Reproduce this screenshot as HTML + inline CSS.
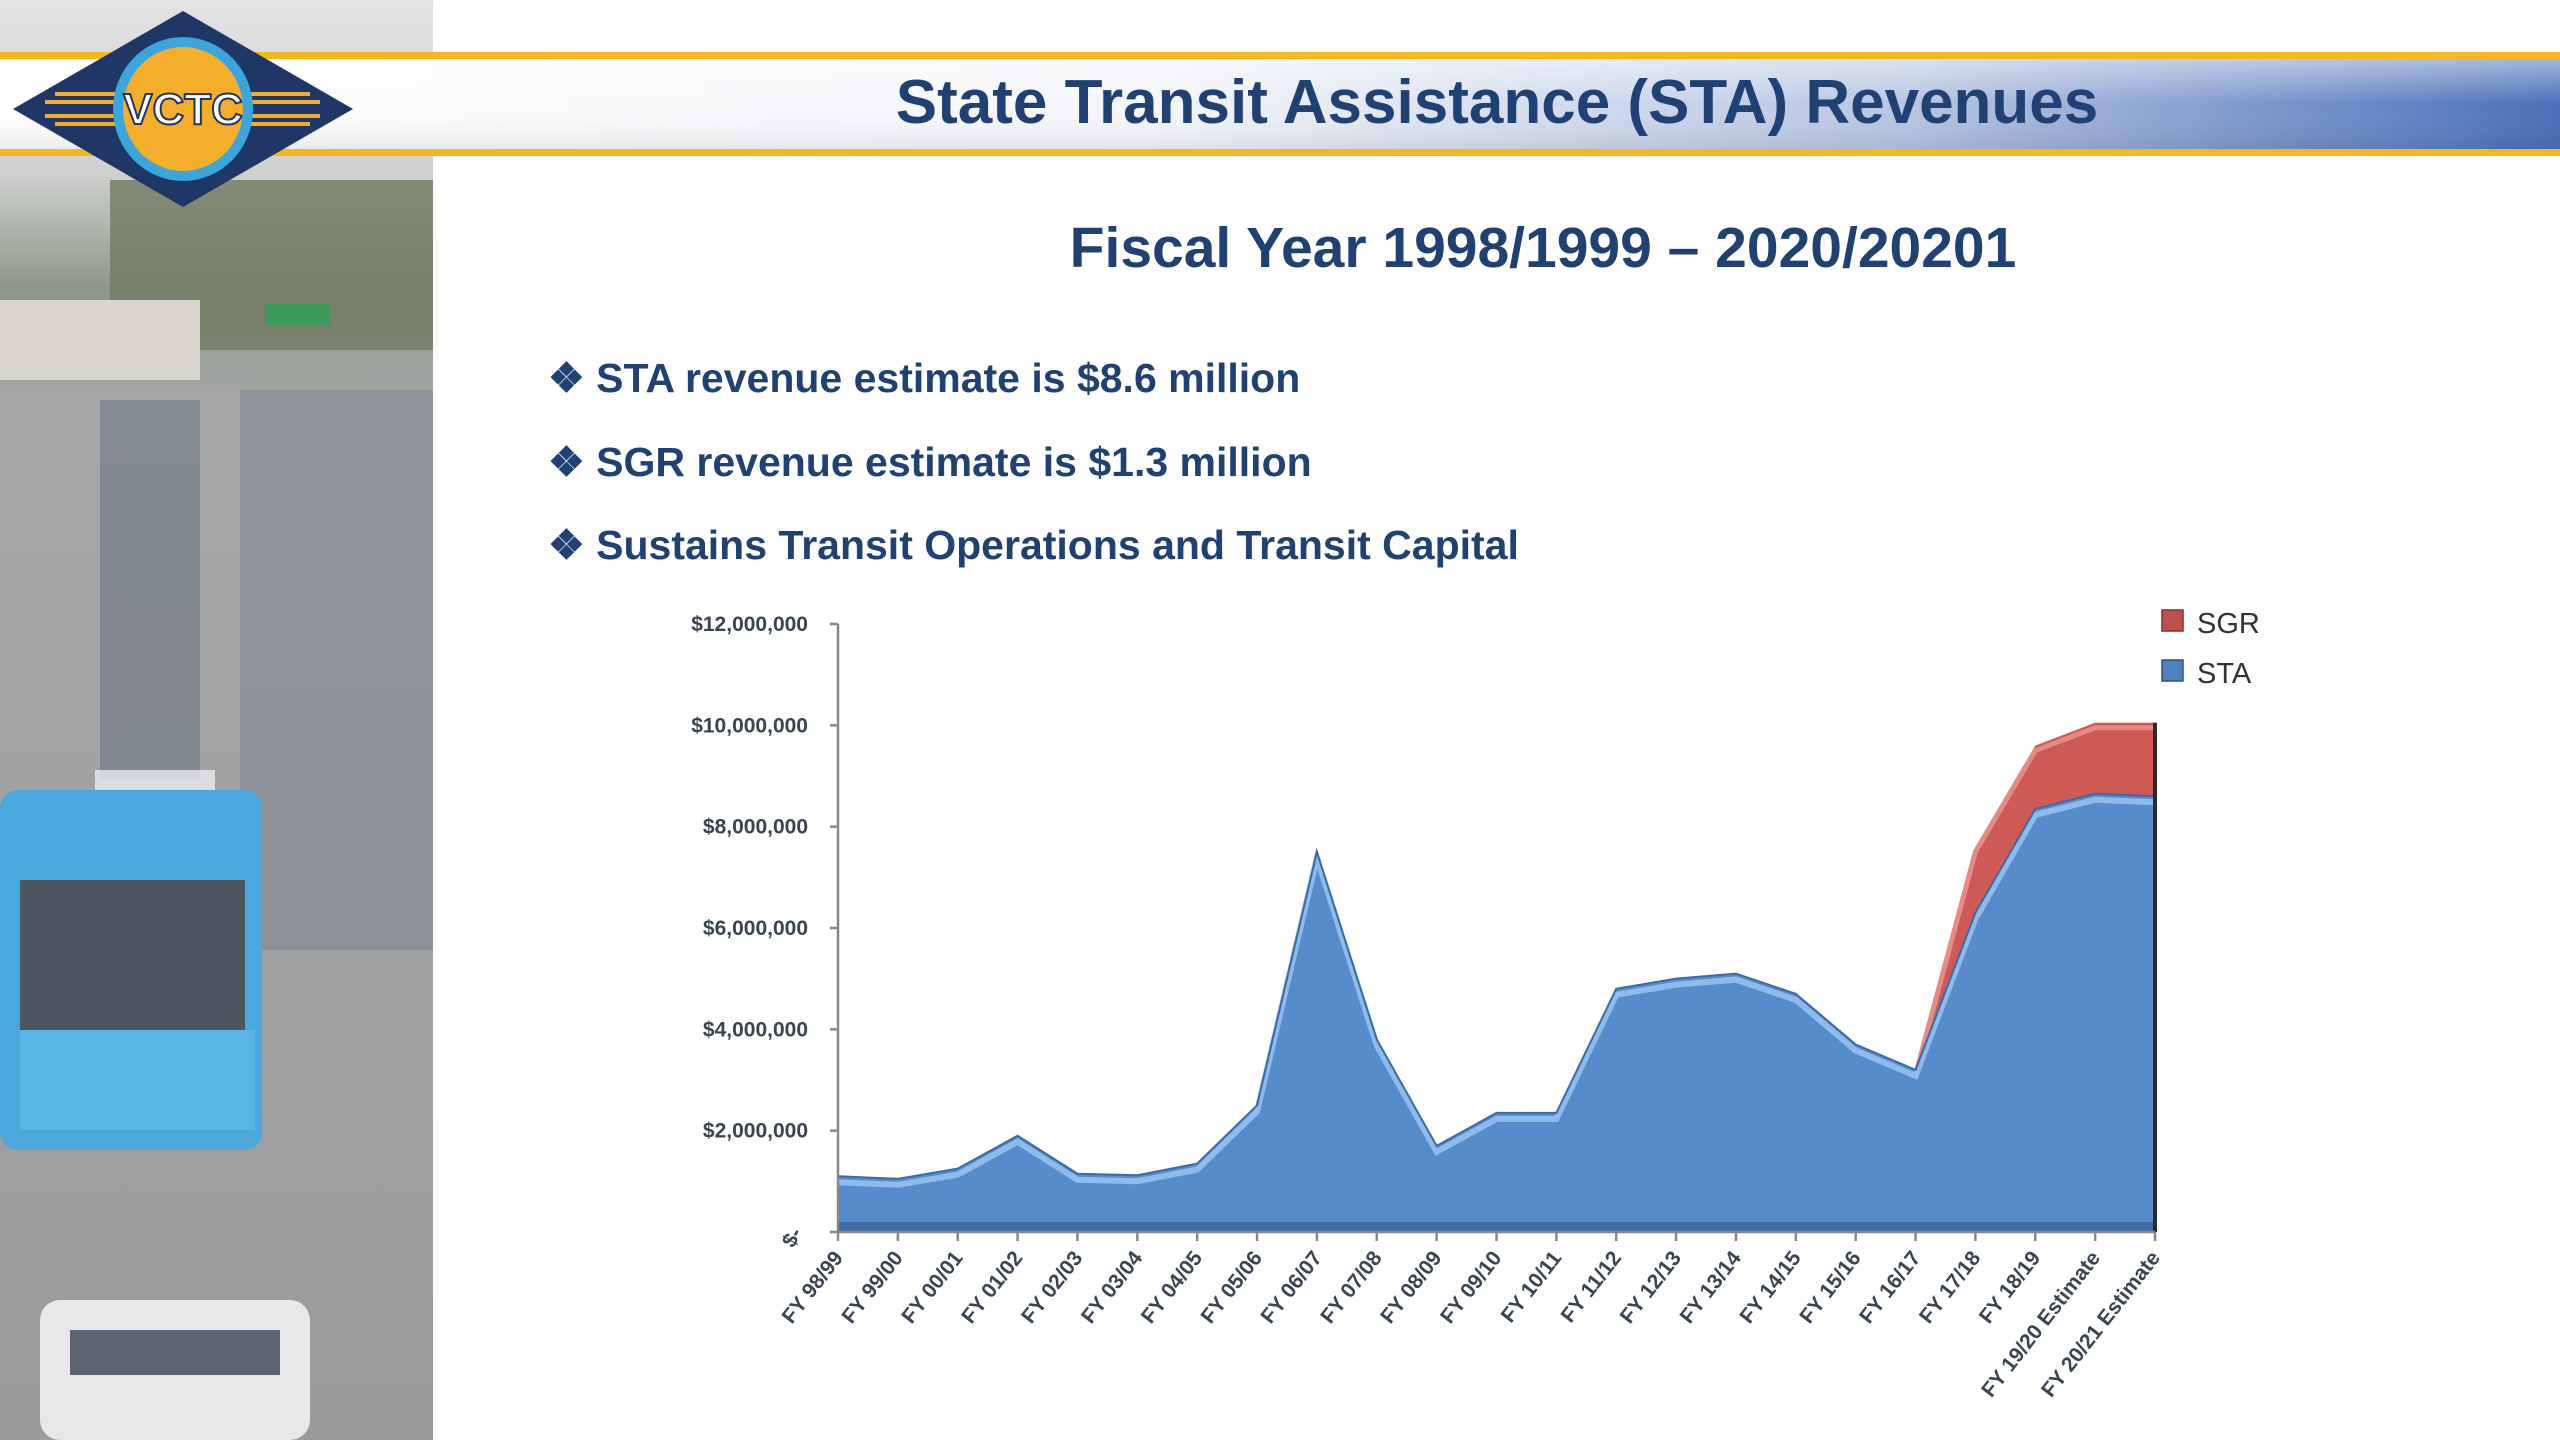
<!DOCTYPE html>
<html><head><meta charset="utf-8"><style>
html,body{margin:0;padding:0;width:2560px;height:1440px;overflow:hidden;background:#fff;font-family:"Liberation Sans",sans-serif;}
svg{display:block}
</style></head><body>
<svg width="2560" height="1440" viewBox="0 0 2560 1440" xmlns="http://www.w3.org/2000/svg">
<defs>
<linearGradient id="band" x1="0" x2="1" y1="0" y2="0"><stop offset="0" stop-color="#ffffff"/><stop offset="0.45" stop-color="#f4f6fa"/><stop offset="0.75" stop-color="#b5c4e2"/><stop offset="1" stop-color="#4a6fb8"/></linearGradient>
<linearGradient id="bandv" x1="0" x2="0" y1="0" y2="1"><stop offset="0" stop-color="#fff" stop-opacity="0.5"/><stop offset="0.5" stop-color="#fff" stop-opacity="0"/><stop offset="1" stop-color="#000" stop-opacity="0.08"/></linearGradient>
<linearGradient id="photo" x1="0" x2="0" y1="0" y2="1"><stop offset="0" stop-color="#e2e3e2"/><stop offset="0.12" stop-color="#cfd1cf"/><stop offset="0.2" stop-color="#8e9688"/><stop offset="0.28" stop-color="#a5a7a6"/><stop offset="1" stop-color="#9a9b9c"/></linearGradient>
</defs>
<g>
<rect x="0" y="0" width="433" height="1440" fill="url(#photo)"/>
<rect x="110" y="180" width="323" height="170" fill="#6f7a62" opacity="0.8"/>
<rect x="0" y="300" width="200" height="80" fill="#d8d6cc"/>
<rect x="265" y="303" width="65" height="22" fill="#3c9a5a"/>
<rect x="100" y="400" width="100" height="380" fill="#6e7784" opacity="0.6"/>
<rect x="240" y="390" width="193" height="560" fill="#7d8590" opacity="0.55"/>
<rect x="95" y="770" width="120" height="160" fill="#e8eaec" opacity="0.8"/>
<rect x="0" y="790" width="262" height="360" rx="18" fill="#4aa8dc"/>
<rect x="20" y="880" width="225" height="150" fill="#4d5660"/>
<rect x="20" y="1030" width="235" height="100" fill="#5ab4e6"/>
<rect x="40" y="1300" width="270" height="140" rx="20" fill="#e6e8ea"/>
<rect x="70" y="1330" width="210" height="45" fill="#5b6470"/>
</g>
<g>
<rect x="0" y="58" width="2560" height="92" fill="url(#band)"/>
<rect x="0" y="58" width="2560" height="92" fill="url(#bandv)"/>
<rect x="0" y="52" width="2560" height="7" fill="#f4b81e"/>
<rect x="0" y="149" width="2560" height="7" fill="#f4b81e"/>
</g>
<g>
<polygon points="183,11 353,109 183,207 13,109" fill="#1e3766"/>
<g stroke="#f2ad2a" stroke-width="4">
<line x1="55" y1="94" x2="310" y2="94"/><line x1="45" y1="102" x2="320" y2="102"/><line x1="45" y1="116" x2="320" y2="116"/><line x1="55" y1="124" x2="310" y2="124"/>
</g>
<ellipse cx="183" cy="109" rx="70" ry="72" fill="#3aa6dc"/>
<ellipse cx="183" cy="109" rx="60" ry="62" fill="#f5ae2a"/>
<text x="183" y="124" text-anchor="middle" font-size="44" font-weight="bold" fill="#fff" stroke="#1e3766" stroke-width="2">VCTC</text>
</g>
<text x="1497" y="123" text-anchor="middle" font-size="62" font-weight="bold" fill="#1f4173">State Transit Assistance (STA) Revenues</text>
<text x="1543" y="267" text-anchor="middle" font-size="57" font-weight="bold" fill="#1f4173">Fiscal Year 1998/1999 – 2020/20201</text>
<g font-size="41" font-weight="bold" fill="#1f4173">
<text x="548" y="392">❖ STA revenue estimate is $8.6 million</text>
<text x="548" y="476">❖ SGR revenue estimate is $1.3 million</text>
<text x="548" y="559">❖ Sustains Transit Operations and Transit Capital</text>
</g>
<g id="chart"></g>
<g>
<rect x="2162" y="610" width="21" height="21" fill="#c0504d" stroke="#8a2f2c" stroke-width="1.5"/>
<text x="2197" y="633" font-size="29" fill="#333">SGR</text>
<rect x="2162" y="660" width="21" height="21" fill="#4f81bd" stroke="#2b5487" stroke-width="1.5"/>
<text x="2197" y="683" font-size="29" fill="#333">STA</text>
</g>
</svg>
<script>
const categories = ["FY 98/99","FY 99/00","FY 00/01","FY 01/02","FY 02/03","FY 03/04","FY 04/05","FY 05/06","FY 06/07","FY 07/08","FY 08/09","FY 09/10","FY 10/11","FY 11/12","FY 12/13","FY 13/14","FY 14/15","FY 15/16","FY 16/17","FY 17/18","FY 18/19","FY 19/20 Estimate","FY 20/21 Estimate"];
const staValues = [1.1,1.05,1.25,1.9,1.15,1.12,1.35,2.5,7.5,3.8,1.7,2.35,2.35,4.8,5.0,5.1,4.7,3.7,3.2,6.3,8.35,8.65,8.6];
const sgrValues = [0,0,0,0,0,0,0,0,0,0,0,0,0,0,0,0,0,0,0,1.3,1.25,1.4,1.45];
const yTickValues = [0,2,4,6,8,10,12];
const yTickLabels = ["$-","$2,000,000","$4,000,000","$6,000,000","$8,000,000","$10,000,000","$12,000,000"];

const NS="http://www.w3.org/2000/svg";
const chartG=document.getElementById('chart');
const X0=838,X1=2155,Y0=1232,Y1=624,YMAX=12;
function xs(i){return X0+(X1-X0)*i/(categories.length-1);}
function ys(v){return Y0-(Y0-Y1)*v/YMAX;}
function mk(t,a){const e=document.createElementNS(NS,t);for(const k in a)e.setAttribute(k,a[k]);chartG.appendChild(e);return e;}

const totals=staValues.map((v,i)=>v+sgrValues[i]);
let d="M"+xs(0)+","+ys(totals[0]);
totals.forEach((v,i)=>d+=" L"+xs(i)+","+ys(v));
for(let i=staValues.length-1;i>=0;i--)d+=" L"+xs(i)+","+ys(staValues[i]);
let e=mk('path',{d:d+" Z",fill:"#cd5a55"});


let hl="";totals.forEach((v,i)=>{if(sgrValues[i]>0||(i+1<totals.length&&sgrValues[i+1]>0))hl+=(hl?" L":"M")+xs(i)+","+(ys(v)+5);});
e=mk('path',{d:hl,fill:"none",stroke:"#e58a85","stroke-width":5});


d="M"+xs(0)+","+ys(0);
staValues.forEach((v,i)=>d+=" L"+xs(i)+","+ys(v));
d+=" L"+xs(staValues.length-1)+","+ys(0)+" Z";
e=mk('path',{d:d,fill:"#578ccc"});


let line="";staValues.forEach((v,i)=>line+=(i?" L":"M")+xs(i)+","+(ys(v)+6));
e=mk('path',{d:line,fill:"none",stroke:"#8dbbec","stroke-width":6});


line="";staValues.forEach((v,i)=>line+=(i?" L":"M")+xs(i)+","+ys(v));
e=mk('path',{d:line,fill:"none",stroke:"#3d6aa3","stroke-width":2});


e=mk('rect',{x:X0,y:Y0-10,width:X1-X0,height:10,fill:"#3f6ca6"});


e=mk('line',{x1:X1,y1:ys(totals[totals.length-1]),x2:X1,y2:Y0,stroke:"#2a2a2a","stroke-width":4});


e=mk('line',{x1:X0,y1:Y1,x2:X0,y2:Y0,stroke:"#888","stroke-width":2.5});


e=mk('line',{x1:X0,y1:Y0,x2:X1,y2:Y0,stroke:"#888","stroke-width":2.5});


yTickValues.forEach((v,i)=>{
  const y=ys(v);
  let t=mk('line',{x1:X0-8,y1:y,x2:X0,y2:y,stroke:"#888","stroke-width":2.5});
  
  
  let lb;
  if(v===0){lb=mk('text',{x:800,y:y+8,"text-anchor":"end","font-size":21,"font-weight":"bold",fill:"#3a4452",transform:"rotate(-60 795 "+(y+2)+")"});}
  else lb=mk('text',{x:808,y:y+7,"text-anchor":"end","font-size":21,"font-weight":"bold",fill:"#3a4452"});
  lb.textContent=yTickLabels[i];
  
  
});
categories.forEach((c,i)=>{
  const x=xs(i);
  let t=mk('line',{x1:x,y1:Y0,x2:x,y2:Y0+9,stroke:"#888","stroke-width":2.5});
  
  
  const lb=mk('text',{x:x+6,y:Y0+26,"text-anchor":"end","font-size":21,"font-weight":"bold",fill:"#3a4452",transform:"rotate(-52 "+(x+6)+" "+(Y0+26)+")"});
  lb.textContent=c;
  
  
});
</script>
</body></html>
